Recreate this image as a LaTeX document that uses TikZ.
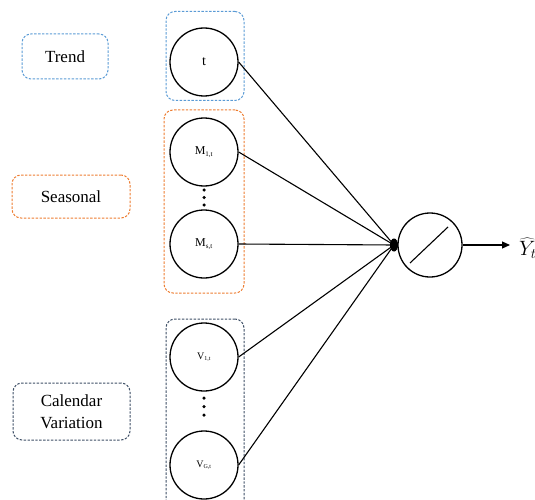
\documentclass[tikz,border=0pt]{standalone}
\usepackage{fontspec}
\setmainfont{Liberation Serif}
\usetikzlibrary{arrows.meta,shapes.geometric}
\definecolor{cblue}{HTML}{5B9BD5}
\definecolor{corange}{HTML}{ED7D31}
\definecolor{cdark}{HTML}{3E4F66}
\begin{document}
\begin{tikzpicture}[x=1pt,y=-1pt,
  grp/.style={draw, line width=1pt, dash pattern=on 2.4pt off 1.5pt, rounded corners=9pt, inner sep=0pt},
  lbl/.style={grp, font=\fontsize{17}{21.5}\selectfont, align=center},
  neuron/.style={draw, circle, line width=1.3pt, minimum size=68pt, inner sep=0pt},
  link/.style={line width=1.1pt},
  dotmark/.style={fill=black, circle, inner sep=0pt, minimum size=3.5pt}
]
\useasboundingbox (0,0) rectangle (535,500);
\clip (0,0) rectangle (535,500);

% category labels
\node[lbl, cblue, text=black, minimum width=86pt, minimum height=45pt] (trend) at (65,56.5) {Trend};
\node[lbl, corange, text=black, minimum width=118pt, minimum height=43pt] (seasonal) at (71,196.5) {Seasonal};
\node[lbl, cdark, text=black, minimum width=117pt, minimum height=57pt] (calendar) at (71.5,411.5) {Calendar\\Variation};

% group boxes
\node[grp, cblue, minimum width=78pt, minimum height=89pt] (g1) at (205,56) {};
\node[grp, corange, minimum width=80pt, minimum height=183pt] (g2) at (204,201.5) {};
\node[grp, cdark, minimum width=78pt, minimum height=200pt] (g3) at (205,419) {};

% input neurons
\node[neuron] (t) at (204,62) {\fontsize{14}{16}\selectfont t};
\node[neuron] (m1) at (204,152) {\fontsize{12}{14}\selectfont M\textsubscript{\fontsize{7}{8}\selectfont 1,t}};
\node[neuron] (ms) at (204,244) {\fontsize{12}{14}\selectfont M\textsubscript{\fontsize{7}{8}\selectfont s,t}};
\node[neuron] (v1) at (204,357) {\fontsize{10}{12}\selectfont V\textsubscript{\fontsize{6}{7}\selectfont 1,t}};
\node[neuron] (vg) at (204,465) {\fontsize{10}{12}\selectfont V\textsubscript{\fontsize{6}{7}\selectfont G,t}};

% vertical dots
\node[dotmark] (d1) at (204,190) {};
\node[dotmark] (d2) at (204,197.5) {};
\node[dotmark] (d3) at (204,205) {};
\node[dotmark] (d4) at (204,398) {};
\node[dotmark] (d5) at (204,406.5) {};
\node[dotmark] (d6) at (204,415) {};

% junction and output neuron
\node[fill=black, ellipse, minimum width=8pt, minimum height=13pt, inner sep=0pt] (j) at (394,245) {};
\node[neuron, minimum size=64pt] (sum) at (430,245) {};
\coordinate (s1) at (410,263);
\coordinate (s2) at (448,227);
\draw[link] (s1) -- (s2);

% connectors
\draw[link] (t.east) -- (j.center);
\draw[link] (m1.east) -- (j.center);
\draw[link] (ms.east) -- (j.center);
\draw[link] (v1.east) -- (j.center);
\draw[link] (vg.east) -- (j.center);

\node[anchor=west, inner sep=0pt] (y) at (519,248) {\fontsize{21}{24}\selectfont$\widehat{Y}_{t}$};
\coordinate (ytip) at (510,245);
\draw[link, -{Triangle[length=8pt,width=7pt]}] (sum.east) -- (ytip);
\end{tikzpicture}
\end{document}
